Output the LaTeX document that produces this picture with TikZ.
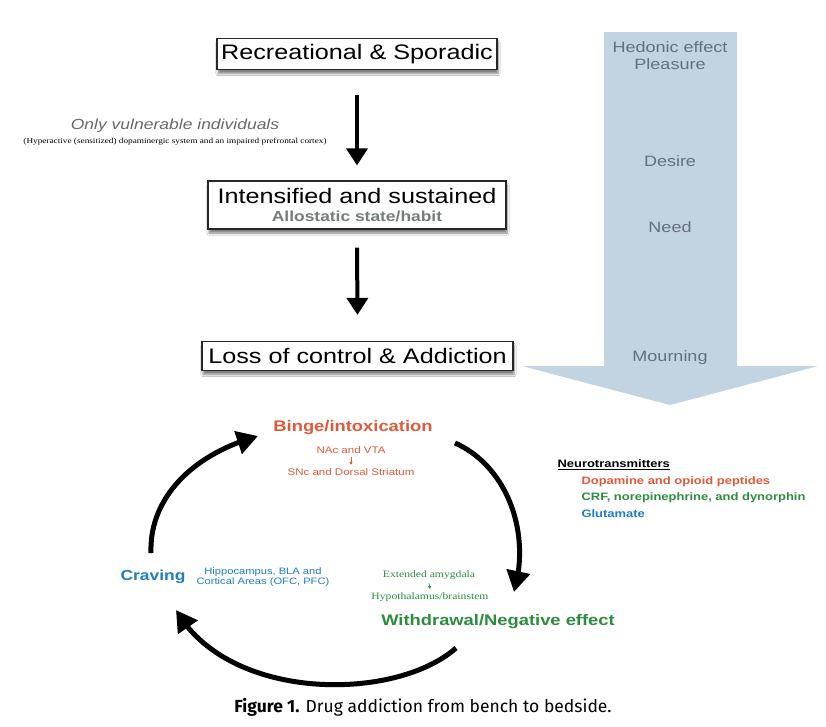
\documentclass[tikz,border=0pt]{standalone}
\usepackage{fontspec}
\setmainfont{Liberation Sans}[FakeStretch=1.2]
\newfontfamily\serifx{Liberation Serif}[FakeStretch=1.2]
\newfontfamily\capfont{Fira Sans}
\usetikzlibrary{arrows.meta,bending,shadows.blur}
\definecolor{bluearrow}{RGB}{194,211,226}
\definecolor{bluetext}{RGB}{100,112,125}
\definecolor{bingered}{RGB}{222,90,58}
\definecolor{wgreen}{RGB}{45,140,62}
\definecolor{cblue}{RGB}{30,125,195}
\definecolor{allogray}{RGB}{118,124,124}
\definecolor{vulngray}{RGB}{105,105,105}
\definecolor{boxedge}{RGB}{40,40,40}
\newcommand{\fs}[1]{\fontsize{#1}{#1}\selectfont}
\tikzset{
  stagebox/.style={draw=boxedge, line width=1.3pt, fill=white, inner sep=0pt, align=center,
    blur shadow={shadow xshift=1pt, shadow yshift=-4pt, shadow blur steps=6, shadow opacity=50}},
  bigarrow/.style={line width=4pt, -{Triangle[length=17pt,width=21pt]}},
  cyclearrow/.style={line width=5pt, -{Triangle[length=21pt,width=23pt,flex]}},
  smallarrow/.style={line width=0.6pt, -{Triangle[length=3pt,width=3pt]}},
  heblabel/.style={text=bluetext, font=\fs{15}},
}
\begin{document}
\begin{tikzpicture}[x=1pt,y=-1pt]
\useasboundingbox (0,0) rectangle (826,726);
\fill[white] (0,0) rectangle (826,726);
% big blue arrow
\fill[bluearrow] (604,32) -- (737,32) -- (737,366) -- (818,366) -- (670,405) -- (522,366) -- (604,366) -- cycle;
\node[heblabel, align=center] (hed) at (670,56) {Hedonic effect\\[2pt]Pleasure};
\node[heblabel] (des) at (670,161) {Desire};
\node[heblabel] (need) at (670,227) {Need};
\node[heblabel] (mourn) at (670,358) {Mourning};
% stage boxes
\node[stagebox, minimum width=280pt, minimum height=31pt] (b1) at (357,54) {\fs{21}Recreational \& Sporadic};
\node[stagebox, minimum width=298pt, minimum height=48pt, font=\fs{21}] (b2) at (357,205)
  {Intensified and sustained\\[-2.5pt]{\fs{14.5}\bfseries\color{allogray}Allostatic state/habit}};
\node[stagebox, minimum width=311pt, minimum height=29pt] (b3) at (357.5,356) {\fs{21}Loss of control \& Addiction};
\draw[bigarrow] ([yshift=-25pt]b1.south) -- ([yshift=15pt]b2.north);
\draw[bigarrow] ([yshift=-18pt]b2.south) -- ([yshift=26pt]b3.north);
% vulnerable
\node[text=vulngray, font=\fs{14.6}\itshape] (vul) at (175,126) {Only vulnerable individuals};
\node[font=\serifx\fs{7.7}] (hyp) at (175,142) {(Hyperactive (sensitized) dopaminergic system and an impaired prefrontal cortex)};
% cycle labels
\node[text=bingered, font=\fs{15.3}\bfseries] (binge) at (353,428) {Binge/intoxication};
\node[text=bingered, font=\fs{9.6}] (nac) at (351,450) {NAc and VTA};
\node[text=bingered, font=\fs{9.6}] (snc) at (351,472) {SNc and Dorsal Striatum};
\draw[smallarrow, draw=bingered] (nac.south) -- (snc.north);
\node[text=cblue, font=\fs{14.5}\bfseries] (crav) at (153,577) {Craving};
\node[text=cblue, font=\fs{9.3}, align=center] (hipp) at (263,577) {Hippocampus, BLA and\\[1pt]Cortical Areas (OFC, PFC)};
\node[text=wgreen, font=\serifx\fs{9.7}] (ext) at (429,575) {Extended amygdala};
\node[text=wgreen, font=\serifx\fs{9.7}] (hypo) at (430,597) {Hypothalamus/brainstem};
\draw[smallarrow, draw=wgreen] (ext.south) -- (hypo.north);
\node[text=wgreen, font=\fs{15.3}\bfseries] (withd) at (498,622) {Withdrawal/Negative effect};
% neurotransmitters
\node[anchor=west, font=\fs{10.8}\bfseries] (neuro) at (554,465) {\underline{Neurotransmitters}};
\node[anchor=west, text=bingered, font=\fs{10.8}\bfseries] (dop) at (578,482) {Dopamine and opioid peptides};
\node[anchor=west, text=wgreen, font=\fs{10.8}\bfseries] (crf) at (578,498) {CRF, norepinephrine, and dynorphin};
\node[anchor=west, text=cblue, font=\fs{10.8}\bfseries] (glu) at (578,514) {Glutamate};
% cycle arrows
\coordinate (c1s) at (151,553);
\coordinate (c1e) at (258,436);
\coordinate (c2s) at (455,443);
\coordinate (c2e) at (514,592);
\coordinate (c3s) at (456,648);
\coordinate (c3e) at (176,610);
\draw[cyclearrow] (c1s) .. controls (149,500) and (190,455) .. (c1e);
\draw[cyclearrow] (c2s) .. controls (505,465) and (532,530) .. (c2e);
\draw[cyclearrow] (c3s) .. controls (395,702) and (228,702) .. (c3e);
% caption
\node[font=\capfont\fs{17.5}] (cap) at (423,707) {\textbf{Figure 1.} Drug addiction from bench to bedside.};
\end{tikzpicture}
\end{document}
